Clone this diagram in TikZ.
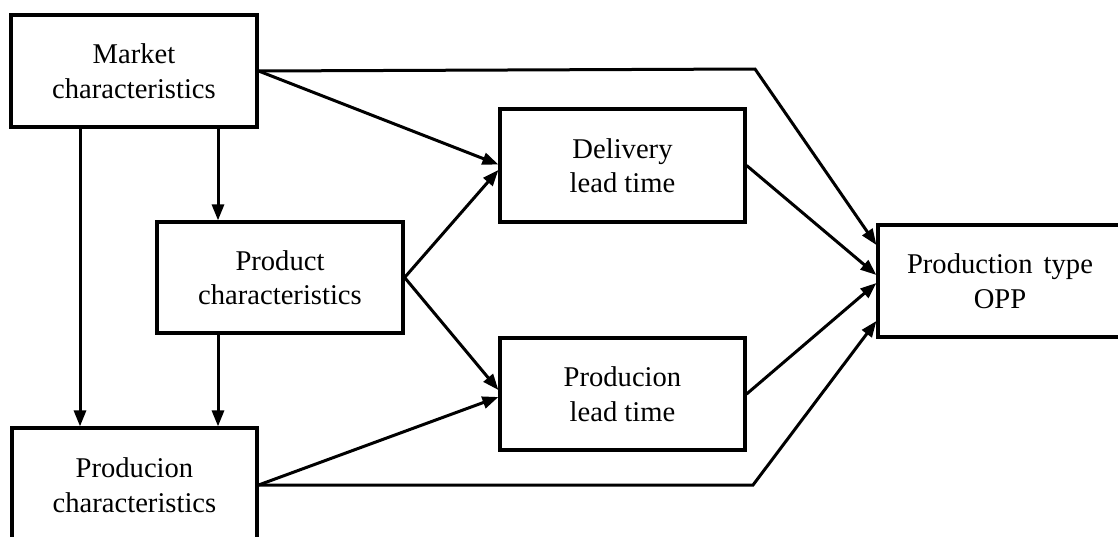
\documentclass[tikz,border=0pt]{standalone}
\usepackage{fontspec}
\setmainfont{Liberation Serif}
\usetikzlibrary{arrows.meta,calc}
\begin{document}
\begin{tikzpicture}[x=1pt,y=-1pt,
  box/.style={draw=black,line width=3.2pt,rectangle,inner sep=0pt,align=center,
    font=\fontsize{28.6}{34.5}\selectfont},
  arr/.style={line width=3pt,-{Triangle[length=16pt,width=12pt]}},
  ln/.style={line width=3pt}]
\useasboundingbox (0,0) rectangle (1118,536);
\node[box,minimum width=246pt,minimum height=112pt] (market) at (134,71) {Market\\characteristics};
\node[box,minimum width=246pt,minimum height=111pt] (product) at (280,277.5) {Product\\characteristics};
\node[box,minimum width=245pt,minimum height=114pt] (prodchar) at (134.5,485) {Producion\\characteristics};
\node[box,minimum width=245pt,minimum height=113pt] (delivery) at (622.5,165.5) {Delivery\\lead time};
\node[box,minimum width=245pt,minimum height=112pt] (prodlead) at (622.5,394) {Producion\\lead time};
\node[box,minimum width=244pt,minimum height=112pt] (opp) at (1000,281) {Production\hspace{4pt} type\\OPP};
\coordinate (xa) at (80,0);
\coordinate (xb) at (218,0);
\coordinate (topbend) at (755,69);
\coordinate (botbend) at (753,485);
% verticals
\draw[arr] (market.south -| xa) -- (prodchar.north -| xa);
\draw[arr] (market.south -| xb) -- (product.north -| xb);
\draw[arr] (product.south -| xb) -- (prodchar.north -| xb);
% top and bottom routes
\draw[arr] (market.east) -- (topbend) -- ($(opp.west)+(0,-36)$);
\draw[arr] (prodchar.east) -- (botbend) -- ($(opp.west)+(0,40)$);
% diagonals
\draw[arr] (market.east) -- ($(delivery.west)+(0,-1)$);
\draw[arr] (product.east) -- ($(delivery.west)+(0,4.5)$);
\draw[arr] (product.east) -- ($(prodlead.west)+(0,-4)$);
\draw[arr] (prodchar.east) -- ($(prodlead.west)+(0,3)$);
\draw[arr] (delivery.east) -- ($(opp.west)+(0,-6)$);
\draw[arr] (prodlead.east) -- ($(opp.west)+(0,2)$);
\end{tikzpicture}
\end{document}
